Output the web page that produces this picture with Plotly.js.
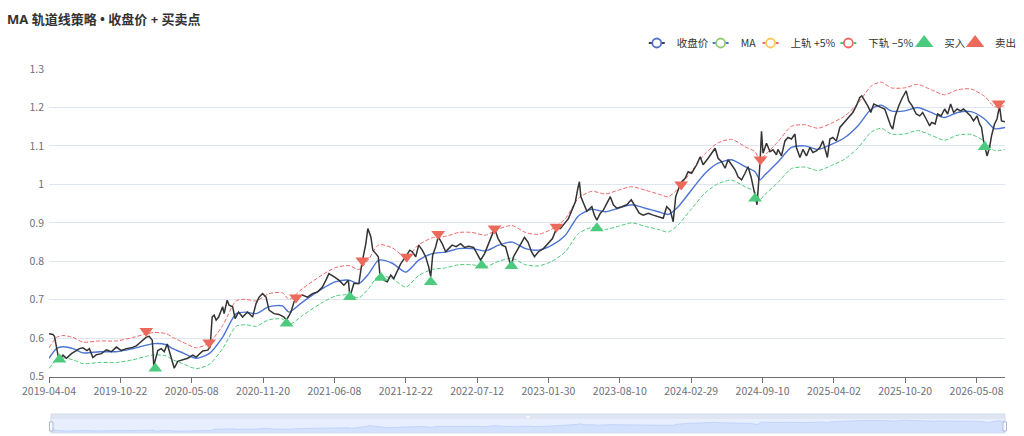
<!DOCTYPE html>
<html>
<head>
<meta charset="utf-8">
<script src="https://cdn.plot.ly/plotly-3.0.1.min.js"></script>
<style>
  html, body { margin: 0; padding: 0; background: #fff; }
  #chart { width: 1024px; height: 436px; }
</style>
</head>
<body>
<div id="chart"></div>
<script>
// ---- Data ----
// x positions are trading-day indices on the category axis (0 = 2019-04-04)
const tickIdx = [0, 143, 286, 429, 572, 715, 858, 1001, 1144, 1287, 1430, 1573, 1716, 1859];
const tickDates = ['2019-04-04','2019-10-22','2020-05-08','2020-11-20','2021-06-08','2021-12-22',
  '2022-07-12','2023-01-30','2023-08-10','2024-02-29','2024-09-10','2025-04-02','2025-10-20','2026-05-08'];
const lastIdx = 1916;

const yTickVals = [0.5, 0.6, 0.7, 0.8, 0.9, 1.0, 1.1, 1.2, 1.3];
const yTickText = ['0.5', '0.6', '0.7', '0.8', '0.9', '1', '1.1', '1.2', '1.3'];

const closeIdx = [0,8,11,15,18,21,28,35,45,61,68,76,81,88,95,105,115,125,135,145,155,165,175,181,188,195,201,207,210,218,225,231,237,241,247,251,258,268,278,288,295,308,318,323,327,331,335,340,345,348,351,357,361,368,373,380,388,398,408,415,421,428,435,441,451,461,471,476,485,491,498,508,518,528,538,548,555,561,571,581,591,600,603,611,621,627,635,639,645,649,655,660,663,671,678,685,691,698,705,715,723,728,735,741,748,755,761,765,769,775,780,788,795,801,808,816,825,833,841,851,858,865,873,881,888,893,900,908,915,921,926,931,938,945,953,960,967,973,981,991,1001,1009,1017,1025,1033,1041,1048,1055,1060,1063,1066,1071,1078,1088,1093,1098,1105,1111,1118,1125,1131,1138,1148,1158,1167,1175,1183,1191,1201,1211,1221,1231,1238,1245,1251,1256,1261,1268,1275,1281,1288,1298,1305,1311,1321,1328,1335,1341,1348,1355,1361,1368,1375,1381,1388,1395,1401,1407,1411,1416,1419,1425,1428,1431,1438,1445,1451,1458,1461,1468,1475,1481,1488,1495,1498,1505,1511,1518,1525,1531,1538,1545,1551,1560,1565,1571,1578,1585,1591,1598,1605,1611,1618,1625,1629,1635,1641,1647,1653,1661,1668,1675,1681,1687,1691,1696,1703,1709,1718,1723,1730,1738,1745,1751,1758,1765,1769,1776,1781,1788,1795,1801,1807,1813,1820,1827,1833,1840,1847,1853,1860,1865,1869,1873,1880,1885,1889,1895,1900,1905,1909,1916];
const closeVal = [0.612,0.610,0.605,0.573,0.556,0.545,0.556,0.548,0.560,0.573,0.575,0.568,0.573,0.550,0.557,0.560,0.570,0.565,0.577,0.568,0.573,0.575,0.580,0.587,0.595,0.603,0.605,0.595,0.528,0.568,0.573,0.565,0.585,0.568,0.537,0.522,0.540,0.545,0.548,0.556,0.551,0.567,0.569,0.577,0.655,0.660,0.647,0.655,0.673,0.682,0.664,0.699,0.686,0.682,0.651,0.668,0.655,0.668,0.655,0.690,0.707,0.716,0.707,0.673,0.664,0.662,0.655,0.647,0.668,0.694,0.707,0.712,0.707,0.716,0.720,0.733,0.751,0.768,0.760,0.751,0.738,0.751,0.707,0.742,0.742,0.794,0.846,0.885,0.864,0.829,0.820,0.812,0.768,0.751,0.747,0.764,0.755,0.777,0.794,0.812,0.829,0.825,0.812,0.842,0.829,0.812,0.785,0.760,0.816,0.838,0.864,0.846,0.825,0.833,0.842,0.838,0.846,0.836,0.839,0.836,0.820,0.803,0.820,0.846,0.868,0.885,0.859,0.842,0.838,0.812,0.786,0.812,0.829,0.846,0.862,0.850,0.825,0.812,0.825,0.833,0.846,0.859,0.885,0.885,0.898,0.911,0.933,0.955,0.990,1.007,0.968,0.951,0.930,0.942,0.920,0.907,0.925,0.933,0.951,0.968,0.947,0.938,0.942,0.947,0.960,0.942,0.925,0.920,0.925,0.920,0.916,0.912,0.942,0.933,0.903,0.968,0.986,1.007,1.016,1.033,1.029,1.051,1.072,1.051,1.068,1.081,1.094,1.068,1.059,1.042,1.064,1.051,1.038,1.020,1.012,1.029,1.046,1.020,0.994,0.960,0.947,1.055,1.138,1.081,1.107,1.085,1.090,1.077,1.091,1.074,1.113,1.122,1.118,1.131,1.096,1.070,1.091,1.074,1.096,1.083,1.087,1.096,1.113,1.070,1.118,1.122,1.113,1.148,1.157,1.170,1.178,1.187,1.204,1.226,1.230,1.217,1.204,1.187,1.209,1.204,1.200,1.196,1.174,1.152,1.144,1.178,1.204,1.222,1.243,1.217,1.204,1.183,1.178,1.187,1.170,1.152,1.161,1.157,1.183,1.178,1.196,1.183,1.209,1.187,1.196,1.191,1.196,1.187,1.178,1.165,1.178,1.157,1.148,1.113,1.074,1.096,1.126,1.157,1.170,1.204,1.165,1.163];

const maIdx = [0,15,28,48,68,101,135,168,195,211,235,248,268,295,321,348,375,395,415,441,468,481,508,548,575,601,621,641,661,688,715,741,768,795,821,848,875,901,928,955,981,1008,1035,1061,1088,1115,1141,1168,1195,1221,1241,1261,1288,1315,1341,1368,1395,1415,1425,1435,1461,1488,1515,1541,1568,1595,1621,1648,1668,1688,1715,1741,1768,1795,1821,1848,1875,1895,1916];
const maVal = [0.548,0.573,0.578,0.573,0.562,0.565,0.565,0.573,0.582,0.586,0.583,0.573,0.562,0.548,0.560,0.603,0.664,0.668,0.664,0.682,0.684,0.668,0.694,0.729,0.747,0.751,0.742,0.768,0.803,0.795,0.772,0.803,0.820,0.824,0.833,0.833,0.827,0.842,0.850,0.833,0.829,0.842,0.868,0.918,0.935,0.929,0.938,0.947,0.938,0.929,0.922,0.942,0.986,1.029,1.055,1.064,1.046,1.033,1.012,1.025,1.058,1.096,1.100,1.091,1.104,1.122,1.152,1.196,1.206,1.191,1.191,1.200,1.187,1.174,1.187,1.189,1.170,1.145,1.148];
const upperVal = [0.575,0.602,0.607,0.602,0.590,0.593,0.593,0.602,0.611,0.615,0.612,0.602,0.590,0.575,0.588,0.633,0.697,0.701,0.697,0.716,0.718,0.701,0.729,0.765,0.784,0.789,0.779,0.806,0.843,0.835,0.811,0.843,0.861,0.865,0.875,0.875,0.868,0.884,0.893,0.875,0.870,0.884,0.911,0.964,0.982,0.975,0.985,0.994,0.985,0.975,0.968,0.989,1.035,1.080,1.108,1.117,1.098,1.085,1.063,1.076,1.111,1.151,1.155,1.146,1.159,1.178,1.210,1.256,1.266,1.251,1.251,1.260,1.246,1.233,1.246,1.248,1.229,1.202,1.205];
const lowerVal = [0.521,0.544,0.549,0.544,0.534,0.537,0.537,0.544,0.553,0.557,0.554,0.544,0.534,0.521,0.532,0.573,0.631,0.635,0.631,0.648,0.650,0.635,0.659,0.693,0.710,0.713,0.705,0.730,0.763,0.755,0.733,0.763,0.779,0.783,0.791,0.791,0.786,0.800,0.808,0.791,0.788,0.800,0.825,0.872,0.888,0.883,0.891,0.900,0.891,0.883,0.876,0.895,0.937,0.978,1.002,1.011,0.994,0.981,0.961,0.974,1.005,1.041,1.045,1.036,1.049,1.066,1.094,1.136,1.146,1.131,1.131,1.140,1.128,1.115,1.128,1.130,1.112,1.088,1.091];

const buyIdx = [21, 213, 476, 603, 665, 765, 867, 927, 1098, 1415, 1875];
const buyVal = [0.545, 0.521, 0.638, 0.707, 0.757, 0.746, 0.789, 0.788, 0.886, 0.963, 1.097];
const sellIdx = [195, 321, 495, 628, 717, 780, 893, 1017, 1267, 1426, 1903];
const sellVal = [0.619, 0.589, 0.706, 0.802, 0.812, 0.871, 0.885, 0.890, 1.000, 1.065, 1.210];

const seriesNames = ['收盘价', 'MA', '上轨 +5%', '下轨 −5%', '买入', '卖出'];

// ---- Styles ----
const FONT = '"Noto Sans CJK SC", "Noto Sans", sans-serif';
const TFONT = '"Noto Sans", "Noto Sans CJK SC", sans-serif';
const FS = 10.5;
const C_CLOSE = '#333333', C_MA = '#4b74d4', C_UP = '#ee6666', C_LO = '#4cc878';
const C_BUY = '#4ccb7e', C_SELL = '#ec6a5b';
const DASH = '4px,2px';
// legend icon strokes: a shorter (16px) centred line, solid or dashed
const ICON_SOLID = '0px,7px,16px,200px';
const ICON_DASH = '0px,7px,3px,1.5px,3px,1.5px,3px,1.5px,2.5px,200px';

function legendLine(name, legendId, lineColor, dash, markerColor) {
  return {
    x: [null], y: [null], type: 'scatter', mode: 'lines+markers', name: name, legend: legendId,
    line: { color: lineColor, width: 2, dash: dash },
    marker: { symbol: 'circle', size: 9, color: '#ffffff', line: { color: markerColor, width: 1.8 } },
    hoverinfo: 'skip'
  };
}
function legendMarker(name, legendId, symbol, color) {
  return {
    x: [null], y: [null], type: 'scatter', mode: 'markers', name: name, legend: legendId,
    marker: { symbol: symbol, size: 16, color: color }, hoverinfo: 'skip'
  };
}

const traces = [
  legendLine(seriesNames[0], 'legend', '#34405f', ICON_SOLID, '#5470c6'),
  legendLine(seriesNames[1], 'legend2', C_MA, ICON_SOLID, '#91cc75'),
  legendLine(seriesNames[2], 'legend3', C_UP, ICON_DASH, '#fac858'),
  legendLine(seriesNames[3], 'legend4', C_LO, ICON_DASH, '#ee6666'),
  legendMarker(seriesNames[4], 'legend5', 'triangle-up', C_BUY),
  legendMarker(seriesNames[5], 'legend6', 'triangle-up', C_SELL),
  { x: maIdx, y: upperVal, type: 'scatter', mode: 'lines', showlegend: false,
    line: { color: C_UP, width: 1, dash: DASH, shape: 'spline', smoothing: 0.7 }, hoverinfo: 'skip' },
  { x: maIdx, y: lowerVal, type: 'scatter', mode: 'lines', showlegend: false,
    line: { color: C_LO, width: 1, dash: DASH, shape: 'spline', smoothing: 0.7 }, hoverinfo: 'skip' },
  { x: maIdx, y: maVal, type: 'scatter', mode: 'lines', showlegend: false,
    line: { color: C_MA, width: 1.4, shape: 'spline', smoothing: 0.7 }, hoverinfo: 'skip' },
  { x: closeIdx, y: closeVal, type: 'scatter', mode: 'lines', showlegend: false,
    line: { color: C_CLOSE, width: 1.5 }, hoverinfo: 'skip' },
  { x: buyIdx, y: buyVal, type: 'scatter', mode: 'markers', name: seriesNames[4], showlegend: false,
    marker: { symbol: 'triangle-up', size: 12, color: C_BUY }, hoverinfo: 'skip' },
  { x: sellIdx, y: sellVal, type: 'scatter', mode: 'markers', name: seriesNames[5], showlegend: false,
    marker: { symbol: 'triangle-down', size: 12, color: C_SELL }, hoverinfo: 'skip' },
  // data shadow in the zoom slider
  { x: closeIdx, y: closeVal, type: 'scatter', mode: 'lines', xaxis: 'x2', yaxis: 'y2', showlegend: false,
    fill: 'tozeroy', fillcolor: '#d4e1fc', line: { color: '#b2c8f6', width: 0.6 }, hoverinfo: 'skip' }
];

const W = 1024, H = 436, ML = 49, MR = 17, MT = 69, MB = 3;
const PW = W - ML - MR, PH = H - MT - MB;
const py = (pix) => (H - MB - pix) / PH;            // pixel row -> paper fraction
const px = (pix) => (pix - ML) / PW;                 // pixel column -> paper fraction

// one legend box per entry so the entries sit where the reference puts them
const legendTextStart = [678, 742, 792, 870, 946, 997];
function legendBox(textX) {
  return {
    orientation: 'h', xanchor: 'left', x: px(textX - 40), yanchor: 'middle', y: py(43),
    font: { family: FONT, size: FS, color: '#333333' }, bgcolor: 'rgba(0,0,0,0)',
    itemwidth: 30, borderwidth: 0
  };
}

const layout = {
  width: W, height: H,
  margin: { l: ML, r: MR, t: MT, b: MB },
  paper_bgcolor: '#ffffff', plot_bgcolor: '#ffffff',
  font: { family: FONT, size: FS, color: '#6e7079' },
  title: {
    text: '<b>MA 轨道线策略 • 收盘价 + 买卖点</b>',
    xref: 'container', x: 7 / W, xanchor: 'left',
    yref: 'container', y: 1 - 19 / H, yanchor: 'middle',
    font: { family: TFONT, size: 13, color: '#333333' }
  },
  showlegend: true,
  legend: legendBox(legendTextStart[0]),
  legend2: legendBox(legendTextStart[1]),
  legend3: legendBox(legendTextStart[2]),
  legend4: legendBox(legendTextStart[3]),
  legend5: legendBox(legendTextStart[4]),
  legend6: legendBox(legendTextStart[5]),
  xaxis: {
    domain: [0, 1], range: [0, lastIdx], anchor: 'y',
    tickmode: 'array', tickvals: tickIdx, ticktext: tickDates,
    ticks: 'outside', ticklen: 5, tickcolor: '#6e7079', tickwidth: 1,
    showline: true, linecolor: '#6e7079', linewidth: 1,
    showgrid: false, zeroline: false,
    tickfont: { family: FONT, size: FS, color: '#6e7079' }
  },
  yaxis: {
    domain: [py(376.7), 1], range: [0.5, 1.3], anchor: 'x',
    tickmode: 'array', tickvals: yTickVals, ticktext: yTickText,
    showgrid: true, gridcolor: '#e0e6f1', gridwidth: 1,
    zeroline: false, showline: false, ticks: '', ticklabelstandoff: 4,
    tickfont: { family: FONT, size: FS, color: '#6e7079' }
  },
  xaxis2: { domain: [px(51), 1], range: [0, lastIdx], anchor: 'y2', visible: false },
  yaxis2: { domain: [0, py(419.3)], range: [0.42, 1.28], anchor: 'x2', visible: false },
  shapes: [
    // slider body
    { type: 'rect', xref: 'x2 domain', x0: 0, x1: 1, yref: 'paper', y0: 0, y1: py(419.3),
      fillcolor: '#e7efff', line: { width: 0 }, layer: 'below' },
    // slider move bar
    { type: 'rect', xref: 'x2 domain', x0: 0, x1: 1, yref: 'paper', y0: py(419.3), y1: py(414),
      fillcolor: '#dfe5f2', line: { width: 0 }, layer: 'below' },
    // slider border
    { type: 'rect', xref: 'x2 domain', x0: 0, x1: 1, yref: 'paper', y0: 0, y1: py(414),
      fillcolor: 'rgba(0,0,0,0)', line: { color: '#d2dbee', width: 1 }, layer: 'above' },
    // move bar grip
    { type: 'rect', xref: 'x2 domain', xsizemode: 'pixel', xanchor: 0.5, x0: -2, x1: 2,
      yref: 'paper', y0: py(417.8), y1: py(415.8), fillcolor: '#f4f6fb', line: { width: 0 }, layer: 'above' },
    // handles
    { type: 'rect', xref: 'x2 domain', xsizemode: 'pixel', xanchor: 0, x0: -1.5, x1: 2,
      yref: 'paper', y0: py(431), y1: py(422), fillcolor: '#ffffff', line: { color: '#acb8d1', width: 1 }, layer: 'above' },
    { type: 'rect', xref: 'x2 domain', xsizemode: 'pixel', xanchor: 1, x0: -2, x1: 1.5,
      yref: 'paper', y0: py(431), y1: py(422), fillcolor: '#ffffff', line: { color: '#acb8d1', width: 1 }, layer: 'above' }
  ]
};

Plotly.newPlot('chart', traces, layout, { staticPlot: true, displayModeBar: false });
</script>
</body>
</html>
